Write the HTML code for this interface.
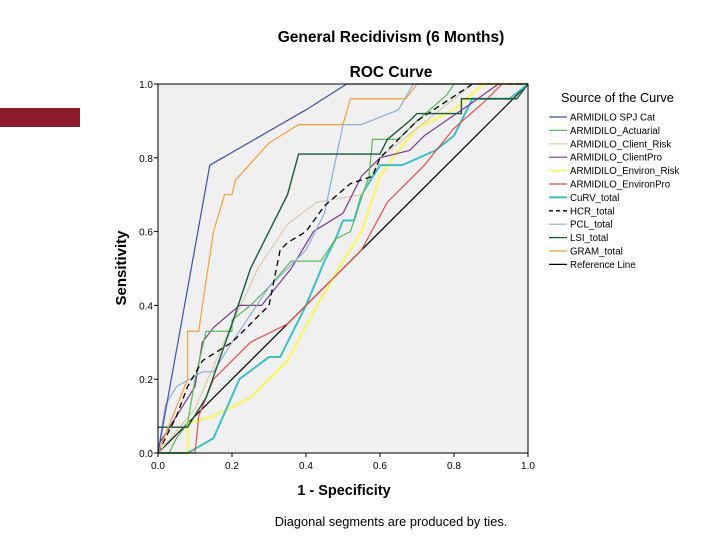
<!DOCTYPE html>
<html><head><meta charset="utf-8"><style>
body{margin:0;background:#fff;width:720px;height:540px;overflow:hidden;font-family:"Liberation Sans",sans-serif}
svg text{font-family:"Liberation Sans",sans-serif}
</style></head><body>
<div style="position:absolute;left:0;top:108px;width:80px;height:19px;background:#8B1A2B"></div>
<svg id="c" width="720" height="540" style="position:absolute;left:0;top:0"></svg>
<script>
const seriesNames=["ARMIDILO SPJ Cat","ARMIDILO_Actuarial","ARMIDILO_Client_Risk","ARMIDILO_ClientPro","ARMIDILO_Environ_Risk","ARMIDILO_EnvironPro","CuRV_total","HCR_total","PCL_total","LSI_total","GRAM_total","Reference Line"];
const spj=[[0,0],[0.14,0.78],[0.4,0.93],[0.51,1],[1,1]];
const actuarial=[[0,0],[0.03,0],[0.05,0.04],[0.08,0.08],[0.1,0.2],[0.13,0.33],[0.2,0.33],[0.2,0.36],[0.25,0.4],[0.3,0.45],[0.36,0.52],[0.44,0.52],[0.48,0.58],[0.52,0.6],[0.57,0.75],[0.58,0.85],[0.65,0.85],[0.7,0.9],[0.78,0.97],[0.8,1],[1,1]];
const clientRisk=[[0,0],[0.1,0.12],[0.2,0.35],[0.27,0.5],[0.35,0.62],[0.43,0.68],[0.55,0.7],[0.6,0.8],[0.7,0.88],[0.85,1],[1,1]];
const clientPro=[[0,0.02],[0.05,0.1],[0.1,0.18],[0.12,0.3],[0.15,0.34],[0.22,0.4],[0.28,0.4],[0.32,0.45],[0.36,0.5],[0.42,0.6],[0.5,0.65],[0.55,0.75],[0.6,0.8],[0.68,0.82],[0.72,0.86],[0.85,0.95],[0.92,1],[1,1]];
const environRisk=[[0,0],[0.08,0],[0.08,0.08],[0.15,0.1],[0.25,0.15],[0.35,0.25],[0.43,0.4],[0.5,0.52],[0.55,0.6],[0.6,0.75],[0.65,0.82],[0.7,0.88],[0.8,0.93],[0.88,1],[1,1]];
const environPro=[[0,0],[0.1,0],[0.11,0.1],[0.15,0.2],[0.25,0.3],[0.35,0.35],[0.45,0.45],[0.55,0.55],[0.62,0.68],[0.72,0.78],[0.8,0.88],[0.88,0.95],[0.93,1],[1,1]];
const curv=[[0,0],[0.08,0],[0.15,0.04],[0.22,0.2],[0.3,0.26],[0.33,0.26],[0.4,0.4],[0.45,0.52],[0.48,0.58],[0.5,0.63],[0.53,0.63],[0.55,0.7],[0.6,0.78],[0.66,0.78],[0.75,0.82],[0.8,0.86],[0.85,0.96],[0.95,0.96],[1,1]];
const hcr=[[0,0],[0.05,0.1],[0.08,0.18],[0.12,0.25],[0.2,0.3],[0.28,0.38],[0.3,0.4],[0.33,0.55],[0.35,0.57],[0.4,0.6],[0.45,0.67],[0.52,0.73],[0.58,0.75],[0.6,0.8],[0.65,0.85],[0.7,0.9],[0.85,1],[1,1]];
const pcl=[[0,0],[0.02,0.13],[0.05,0.18],[0.12,0.22],[0.15,0.22],[0.2,0.3],[0.3,0.45],[0.4,0.55],[0.45,0.65],[0.5,0.89],[0.55,0.89],[0.65,0.93],[0.69,1],[1,1]];
const lsi=[[0,0.07],[0.08,0.07],[0.13,0.15],[0.2,0.35],[0.25,0.5],[0.3,0.6],[0.35,0.7],[0.38,0.81],[0.6,0.81],[0.62,0.85],[0.68,0.9],[0.7,0.92],[0.82,0.92],[0.82,0.96],[0.97,0.96],[1,1]];
const gram=[[0,0],[0.08,0.2],[0.08,0.33],[0.11,0.33],[0.12,0.4],[0.15,0.6],[0.18,0.7],[0.2,0.7],[0.21,0.74],[0.3,0.84],[0.38,0.89],[0.5,0.89],[0.52,0.96],[0.67,0.96],[0.7,1],[1,1]];
const reference=[[0,0],[1,1]];
const tickLabels=["0.0","0.2","0.4","0.6","0.8","1.0"];
const tickValues=[0,0.2,0.4,0.6,0.8,1.0];

const svg=document.getElementById('c');
const NS="http://www.w3.org/2000/svg";
const X0=158,X1=528,Y0=453,Y1=84;
const sx=v=>X0+(X1-X0)*v, sy=v=>Y0-(Y0-Y1)*v;
function mk(tag,attrs,parent){const e=document.createElementNS(NS,tag);for(const k in attrs)e.setAttribute(k,attrs[k]);(parent||svg).appendChild(e);return e;}
function txt(s,x,y,size,anchor,weight,extra){const t=mk('text',Object.assign({x:x,y:y,'font-size':size,'text-anchor':anchor||'start','font-weight':weight||'normal',fill:'#000'},extra||{}));t.textContent=s;return t;}

const bg=mk('rect',{x:X0,y:Y1,width:X1-X0,height:Y0-Y1,fill:'#F0F0F0'});



const styles=[
 {d:spj,c:'#3F51A3',w:1.2},{d:actuarial,c:'#5CB85C',w:1.2},{d:clientRisk,c:'#D6CDB0',w:1.2},
 {d:clientPro,c:'#7B3B8F',w:1.2},{d:environRisk,c:'#F6F674',w:2.5},{d:environPro,c:'#E0504F',w:1.2},
 {d:curv,c:'#3FBFC4',w:2},{d:hcr,c:'#000',w:1.3,dash:'6,4'},{d:pcl,c:'#8EAED8',w:1.2},
 {d:lsi,c:'#1C5A3A',w:1.4},{d:gram,c:'#F2A03E',w:1.2},{d:reference,c:'#000',w:1.2}
];
const order=[11,4,6,5,2,3,1,8,7,9,10,0];
order.forEach(i=>{const s=styles[i];
 const p=mk('polyline',{points:s.d.map(q=>sx(q[0])+','+sy(q[1])).join(' '),fill:'none',stroke:s.c,'stroke-width':s.w});
 if(s.dash)p.setAttribute('stroke-dasharray',s.dash);
 
 
});
const fr=mk('rect',{x:X0,y:Y1,width:X1-X0,height:Y0-Y1,fill:'none',stroke:'#000','stroke-width':1});



tickValues.forEach((v,i)=>{
 mk('line',{x1:sx(v),y1:Y0,x2:sx(v),y2:Y0+4,stroke:'#000'});
 const a=txt(tickLabels[i],sx(v),Y0+16,10,'middle');
 
 
 mk('line',{x1:X0-4,y1:sy(v),x2:X0,y2:sy(v),stroke:'#000'});
 const b=txt(tickLabels[i],X0-5,sy(v)+4,10,'end');
 
 
});

let t=txt('General Recidivism (6 Months)',391,42,15.5,'middle','bold');

t=txt('ROC Curve',391,77,15.5,'middle','bold');

t=txt('1 - Specificity',344,495,14.5,'middle','bold');

t=txt('Sensitivity',126,268,15,'middle','bold',{transform:'rotate(-90 126 268)'});

t=txt('Diagonal segments are produced by ties.',391,526,12.8,'middle');

t=txt('Source of the Curve',561,102,12.7,'start');


seriesNames.forEach((n,i)=>{const y=117+i*13.4;const s=styles[i];
 const g=mk('g',{});
 
 
 const l=mk('line',{x1:549,y1:y,x2:567,y2:y,stroke:s.c,'stroke-width':Math.min(s.w,2)},g);
 if(s.dash)l.setAttribute('stroke-dasharray','4,3');
 const tt=mk('text',{x:570,y:y+3.5,'font-size':9.7,fill:'#000'},g);tt.textContent=n;
});
</script>
</body></html>
